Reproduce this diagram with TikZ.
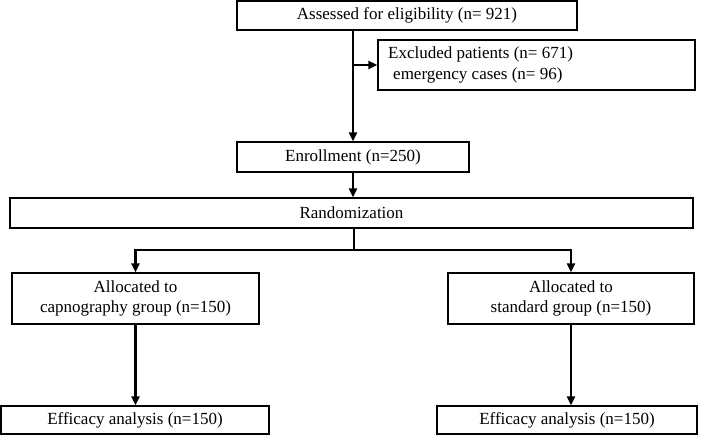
\documentclass[tikz,border=0pt]{standalone}
\usepackage{fontspec}
\setmainfont{Liberation Serif}
\usetikzlibrary{arrows.meta}
\begin{document}
\begin{tikzpicture}[x=1pt,y=-1pt,
  box/.style={draw=black, line width=1.3pt, inner sep=0pt, align=center,
    font=\fontsize{17}{20}\selectfont},
  arr/.style={line width=2.6pt, -{Triangle[length=9pt,width=8pt]}},
  plain/.style={line width=2.6pt}]
\useasboundingbox (0,0) rectangle (709,436);
% boxes
\node[box, minimum width=340pt, minimum height=29pt] (top) at (407,15.5) {Assessed for eligibility (n= 921)};
\node[box, minimum width=317pt, minimum height=50pt] (excl) at (536.5,65) {};
\node[anchor=west, inner sep=0pt, align=left, font=\fontsize{17}{21}\selectfont] (excltext) at (388,65)
  {Excluded patients (n= 671)\\\hspace{5pt}emergency cases (n= 96)};
\node[box, minimum width=232pt, minimum height=30pt] (enroll) at (353,157) {Enrollment (n=250)};
\node[box, minimum width=683pt, minimum height=30pt] (rand) at (351.5,213) {Randomization};
\node[box, minimum width=247pt, minimum height=51pt] (allocL) at (135.5,298.5) {Allocated to\\capnography group (n=150)};
\node[box, minimum width=246pt, minimum height=51pt] (allocR) at (571,298.5) {Allocated to\\standard group (n=150)};
\node[box, minimum width=268pt, minimum height=28pt] (effL) at (135,420) {Efficacy analysis (n=150)};
\node[box, minimum width=260pt, minimum height=28pt] (effR) at (567,420) {Efficacy analysis (n=150)};
% connectors
\coordinate (c1) at (353,0);
\coordinate (split) at (354,250);
\draw[arr] (c1 |- top.south) -- (c1 |- enroll.north);
\draw[arr] (c1 |- excl.west) -- (excl.west);
\draw[arr] (enroll.south) -- (rand.north -| enroll.south);
\draw[plain] (rand.south -| split) -- (split);
\draw[arr] (split) -| (allocL.north);
\draw[arr] (split) -| (allocR.north);
\draw[arr] (allocL.south) -- (allocL.south |- effL.north);
\draw[arr] (allocR.south) -- (allocR.south |- effR.north);
\end{tikzpicture}
\end{document}
